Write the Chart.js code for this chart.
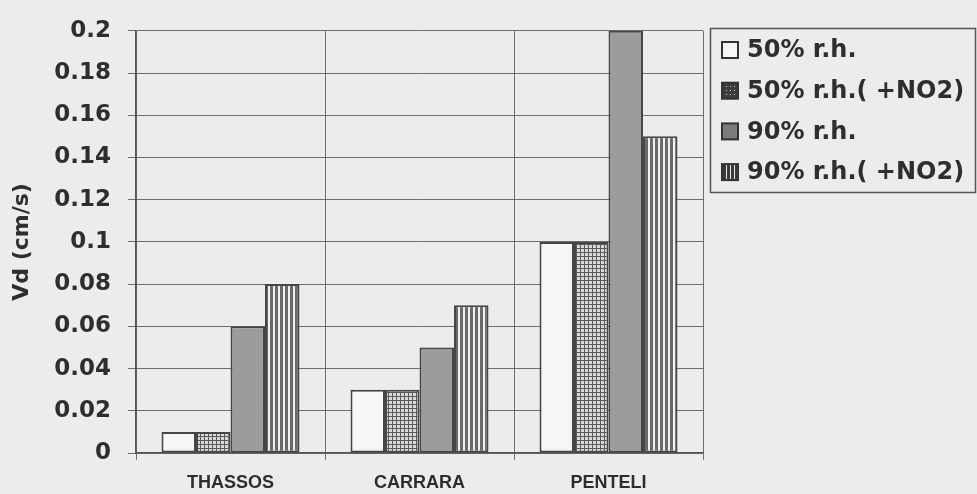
<!DOCTYPE html>
<html>
<head>
<meta charset="utf-8">
<script src="https://cdn.jsdelivr.net/npm/chart.js@4.4.1/dist/chart.umd.min.js"></script>
<style>
    html, body { margin: 0; padding: 0; background: #ececec; }
    #wrap { width: 977px; height: 494px; position: relative; }
</style>
</head>
<body>
<div id="wrap"><canvas id="vdChart"></canvas></div>
<script>
// Deposition velocity per marble type
const sites = ['THASSOS', 'CARRARA', 'PENTELI'];
const seriesLabels = ['50% r.h.', '50% r.h.( +NO2)', '90% r.h.', '90% r.h.( +NO2)'];
const rh50 = [0.01, 0.03, 0.1];
const rh50no2 = [0.01, 0.03, 0.1];
const rh90 = [0.06, 0.05, 0.2];
const rh90no2 = [0.08, 0.07, 0.15];
const yTicks = [0, 0.02, 0.04, 0.06, 0.08, 0.1, 0.12, 0.14, 0.16, 0.18, 0.2];

const boldFont = "'DejaVu Sans', 'Liberation Sans', sans-serif";

function makePattern(size, draw) {
    const c = document.createElement('canvas');
    c.width = size[0];
    c.height = size[1];
    draw(c.getContext('2d'));
    return c.getContext('2d').createPattern(c, 'repeat');
}

// fine crosshatch grid
const gridFill = makePattern([4, 4], g => {
    g.fillStyle = '#d8d8d8';
    g.fillRect(0, 0, 4, 4);
    g.fillStyle = '#5a5a5a';
    g.fillRect(0, 0, 4, 1);
    g.fillRect(0, 0, 1, 4);
});

// vertical stripes
const stripeFill = makePattern([5, 5], g => {
    g.fillStyle = '#f2f2f2';
    g.fillRect(0, 0, 5, 5);
    g.fillStyle = '#6a6a6a';
    g.fillRect(0, 0, 3, 5);
});

// darker versions for the small legend swatches
const gridSwatch = makePattern([4, 4], g => {
    g.fillStyle = '#3c3c3c';
    g.fillRect(0, 0, 4, 4);
    g.fillStyle = '#cfcfcf';
    g.fillRect(2, 2, 1, 1);
});
const stripeSwatch = makePattern([4, 4], g => {
    g.fillStyle = '#3a3a3a';
    g.fillRect(0, 0, 4, 4);
    g.fillStyle = '#e8e8e8';
    g.fillRect(2, 0, 1, 4);
});

const fills = ['#f6f6f6', gridFill, '#9c9c9c', stripeFill];
const swatches = ['#f6f6f6', gridSwatch, '#7c7c7c', stripeSwatch];
const seriesData = [rh50, rh50no2, rh90, rh90no2];

// Boxed legend on the right side
const boxLegend = {
    id: 'boxLegend',
    afterDraw(chart) {
        const ctx = chart.ctx;
        ctx.save();
        ctx.strokeStyle = '#555';
        ctx.lineWidth = 1.5;
        ctx.strokeRect(710.5, 28.5, 265, 164);
        ctx.font = 'bold 24px ' + boldFont;
        ctx.textBaseline = 'middle';
        ctx.textAlign = 'left';
        chart.data.datasets.forEach((ds, i) => {
            const cy = 50 + i * 40.7;
            ctx.fillStyle = swatches[i];
            ctx.fillRect(722, cy - 8, 16, 16);
            ctx.strokeStyle = '#333';
            ctx.lineWidth = 2;
            ctx.strokeRect(722, cy - 8, 16, 16);
            ctx.fillStyle = '#2e2e2e';
            ctx.fillText(ds.label, 747, cy + 1);
        });
        ctx.restore();
    }
};

new Chart(document.getElementById('vdChart'), {
    type: 'bar',
    data: {
        labels: sites,
        datasets: seriesLabels.map((label, i) => ({
            label: label,
            data: seriesData[i],
            backgroundColor: fills[i],
            borderColor: '#464646',
            borderWidth: 2,
            borderSkipped: false,
            categoryPercentage: 0.73,
            barPercentage: 1
        }))
    },
    options: {
        responsive: true,
        maintainAspectRatio: false,
        animation: false,
        layout: { padding: { top: 20, right: 274, bottom: 0, left: 0 } },
        plugins: {
            legend: { display: false },
            tooltip: { enabled: false }
        },
        scales: {
            x: {
                grid: {
                    color: '#6e6e6e',
                    lineWidth: 1,
                    tickLength: 7,
                    offset: true
                },
                border: { color: '#555', width: 1.5 },
                ticks: {
                    color: '#2e2e2e',
                    padding: 12,
                    font: { family: "'Liberation Sans', Arial, sans-serif", size: 18, weight: 'bold' }
                },
                afterFit(scale) { scale.height = 41; }
            },
            y: {
                min: 0,
                max: 0.2,
                afterBuildTicks(scale) {
                    scale.ticks = yTicks.map(v => ({ value: v }));
                },
                grid: {
                    color: '#6e6e6e',
                    lineWidth: 1,
                    tickLength: 8
                },
                border: { color: '#555', width: 1.5 },
                ticks: {
                    color: '#2e2e2e',
                    padding: 17,
                    font: { family: boldFont, size: 23, weight: 'bold' },
                    callback: v => String(Number(v.toFixed(2)))
                },
                title: {
                    display: true,
                    text: 'Vd (cm/s)',
                    color: '#2e2e2e',
                    padding: { top: 9, bottom: 0 },
                    font: { family: boldFont, size: 22, weight: 'bold' }
                },
                afterFit(scale) { scale.width = 136; }
            }
        }
    },
    plugins: [boxLegend]
});
</script>
</body>
</html>
